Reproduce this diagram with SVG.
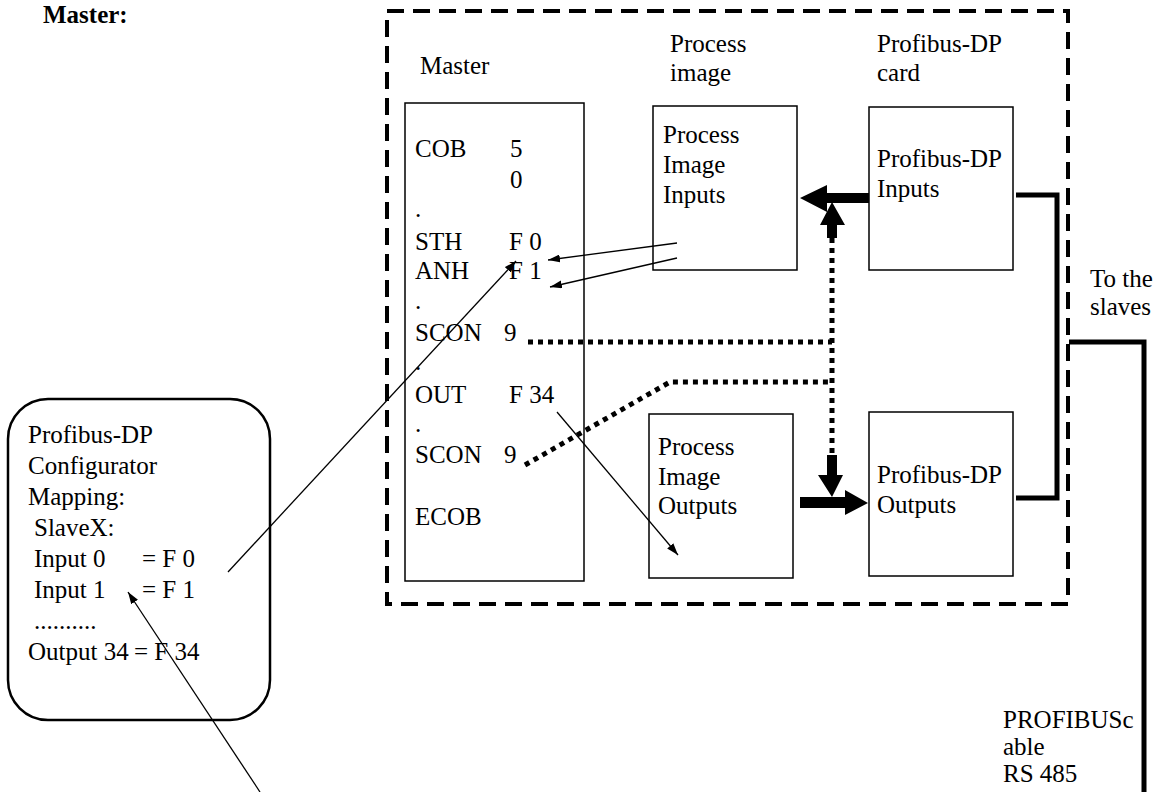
<svg xmlns="http://www.w3.org/2000/svg" width="1166" height="792" viewBox="0 0 1166 792">
<defs>
<style>
text{font-family:"Liberation Serif","Times New Roman",serif;font-size:25px;fill:#000}
.b{font-weight:bold}
.box{fill:#fff;stroke:#000;stroke-width:1.5}
.thin{fill:none;stroke:#000;stroke-width:1.3;marker-end:url(#ah)}
.dot{fill:none;stroke:#000;stroke-width:5;stroke-dasharray:5 5}
.cable{fill:none;stroke:#000;stroke-width:5}
.dash{fill:none;stroke:#000;stroke-width:4;stroke-dasharray:17 9}
</style>
<marker id="ah" viewBox="0 0 12 8" refX="12" refY="4" markerWidth="12" markerHeight="8" markerUnits="userSpaceOnUse" orient="auto">
<path d="M0,0 L12,4 L0,8 Z" fill="#000"/>
</marker>
</defs>
<rect width="1166" height="792" fill="#fff"/>
<text class="b" x="43" y="23">Master:</text>
<rect class="dash" x="387" y="11" width="681" height="593"/>
<g id="labels">
<text x="420" y="74">Master</text>
<text x="670" y="52">Process</text>
<text x="670" y="81">image</text>
<text x="877" y="52">Profibus-DP</text>
<text x="877" y="81">card</text>
</g>
<g id="master">
<rect class="box" x="405" y="103" width="179" height="478"/>
<text x="415" y="157">COB</text><text x="510" y="157">5</text>
<text x="510" y="188">0</text>
<text x="415" y="217">.</text>
<text x="415" y="250">STH</text><text x="509" y="250">F 0</text>
<text x="415" y="279">ANH</text><text x="509" y="279">F 1</text>
<text x="415" y="309">.</text>
<text x="415" y="341">SCON</text><text x="504" y="341">9</text>
<text x="415" y="370">.</text>
<text x="415" y="403">OUT</text><text x="509" y="403">F 34</text>
<text x="415" y="432">.</text>
<text x="415" y="463">SCON</text><text x="504" y="463">9</text>
<text x="415" y="525">ECOB</text>
</g>
<g id="pii">
<rect class="box" x="653" y="106" width="144" height="164"/>
<text x="663" y="143">Process</text>
<text x="663" y="173">Image</text>
<text x="663" y="203">Inputs</text>
</g>
<g id="pdi">
<rect class="box" x="869" y="107" width="144" height="163"/>
<text x="877" y="167">Profibus-DP</text>
<text x="877" y="197">Inputs</text>
</g>
<g id="pio">
<rect class="box" x="649" y="414" width="144" height="164"/>
<text x="658" y="455">Process</text>
<text x="658" y="485">Image</text>
<text x="658" y="514">Outputs</text>
</g>
<g id="pdo">
<rect class="box" x="869" y="412" width="144" height="164"/>
<text x="877" y="483">Profibus-DP</text>
<text x="877" y="513">Outputs</text>
</g>
<g id="config">
<rect x="8" y="399" width="262" height="321" rx="40" ry="40" fill="#fff" stroke="#000" stroke-width="2.5"/>
<text x="28" y="443">Profibus-DP</text>
<text x="28" y="474">Configurator</text>
<text x="28" y="505">Mapping:</text>
<text x="34" y="536">SlaveX:</text>
<text x="34" y="567">Input 0</text><text x="142" y="567">= F 0</text>
<text x="34" y="598">Input 1</text><text x="142" y="598">= F 1</text>
<text x="34" y="629">..........</text>
<text x="28" y="660">Output 34</text><text x="134" y="660">= F 34</text>
</g>
<g id="notes">
<text x="1090" y="287">To the</text>
<text x="1090" y="315">slaves</text>
<text x="1003" y="728">PROFIBUSc</text>
<text x="1003" y="755">able</text>
<text x="1003" y="782">RS 485</text>
</g>
<g id="connectors">
<line class="thin" x1="677" y1="243" x2="548" y2="260"/>
<line class="thin" x1="677" y1="258" x2="550" y2="287"/>
<line class="thin" x1="228" y1="572" x2="516" y2="261"/>
<line class="thin" x1="557" y1="412" x2="678" y2="555"/>
<line class="thin" x1="260" y1="792" x2="128" y2="592"/>
<path class="dot" d="M528,342 H832"/>
<path class="dot" d="M525,465 L670,382 H832"/>
<path class="dot" d="M832,238 V458"/>
<path class="cable" d="M1016,195 H1057 V498 H1016"/>
<path class="cable" d="M1069,342 H1144 V792"/>
<polygon points="869,193 827,193 827,185 800,198 827,212 827,203 869,203" fill="#000"/>
<polygon points="827,238 827,225 820,225 832,202 845,225 837,225 837,238" fill="#000"/>
<polygon points="827,455 837,455 837,475 843,475 832,497 818,475 827,475" fill="#000"/>
<polygon points="800,497 845,497 845,490 868,503 845,515 845,508 800,508" fill="#000"/>
</g>
</svg>
